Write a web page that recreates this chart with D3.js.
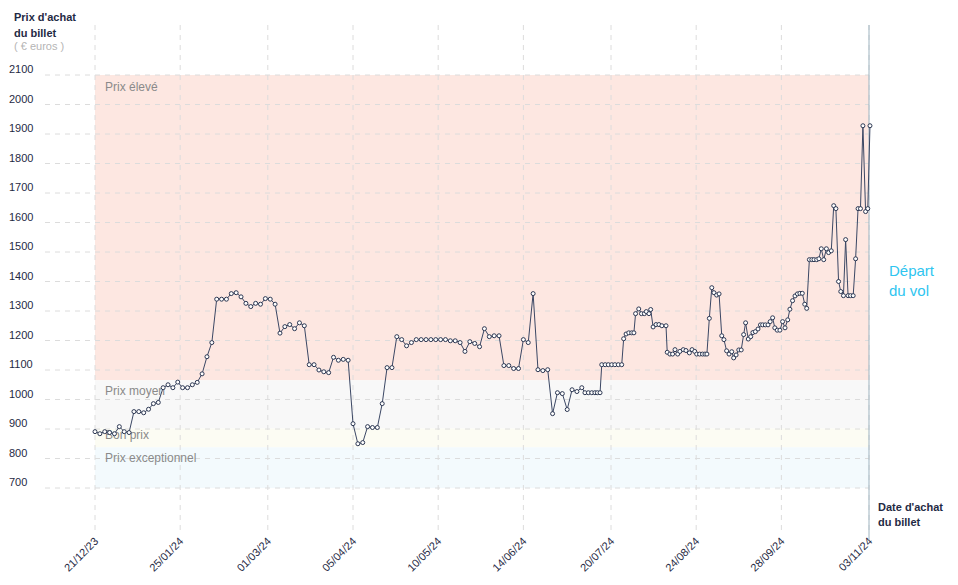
<!DOCTYPE html>
<html>
<head>
<meta charset="utf-8">
<script src="https://cdn.jsdelivr.net/npm/d3@7"></script>
<style>
  body { margin: 0; background: #fff; }
  text { font-family: "Liberation Sans", Arial, sans-serif; }
</style>
</head>
<body>
<div id="chart"></div>
<script>
// Prix d'achat du billet selon la date d'achat

// Data
var startDate = new Date(2023, 11, 21);
// days since 21/12/23 for each observation
var days = [0,2,4,6,8,10,12,14,16,18,20,22,24,26,28,30,32,34,36,38,40,42,44,46,48,50,52,54,56,58,60,62,64,66,68,70,72,74,76,78,
  80,82,84,86,88,90,92,94,96,98,100,102,104,106,108,110,112,114,116,118,120,122,124,126,128,130,132,134,136,138,
  140,142,144,146,148,150,152,154,156,158,160,162,164,166,168,170,172,174,176,178,180,182,184,186,188,190,192,194,196,198,200,
  201.3,202.7,204.1,205.4,206.4,207.5,208.2,209.6,210.9,212.3,213.6,215,216.4,217.2,218.2,219.3,220.5,221.4,222.1,223.4,224.5,225.7,226.5,227.6,228.3,229.3,230.5,231.7,232.9,234.6,
  235.1,236.2,237.3,238.3,239.4,240.3,241.7,242.8,244.2,245.3,246.4,247.2,248.4,249.6,250.6,251.4,252.4,
  253.4,254.3,255.4,256.4,257.5,258.4,259.5,260.5,261.6,262.4,263.4,264.5,265.5,266.5,267.3,268.4,269.4,270.3,271.3,272.4,273.4,274.3,275.4,276.5,277.4,278.4,279.3,280.3,281.4,282.5,283.5,284.6,285.5,286.6,287.6,288.6,
  289.6,290.6,291.6,292.4,293.5,294.5,295.4,296.5,297.4,298.4,299.4,300.5,301.4,302.5,303.5,304.4,305.5,306.4,307.5,308.4,309.4,310.4,311.5,312.5,313.5,314.5,315.5,316.6,317.5,318.4];
var prices = [891,884,891,888,884,908,891,888,959,959,955,967,986,990,1040,1050,1040,1059,1040,1040,1050,1058,1087,1145,1193,1340,1340,1340,1359,1362,1348,1326,1315,1326,1323,1342,1340,1323,1225,1247,
  1254,1240,1260,1250,1118,1118,1100,1094,1091,1143,1133,1136,1133,918,850,854,908,905,905,986,1108,1108,1213,1203,1182,1193,1203,1203,1203,1203,
  1203,1203,1203,1199,1199,1193,1163,1196,1190,1179,1240,1213,1216,1216,1115,1115,1105,1105,1203,1193,1359,1101,1098,1101,952,1023,1020,966,1033,1027,1040,
  1023,1023,1023,1023,1023,1023,1118,1118,1118,1118,1118,1118,1118,1206,1222,1226,1226,1226,1291,1307,1291,1291,1298,1291,1305,1246,1254,1254,1250,1250,
  1160,1154,1154,1169,1154,1163,1169,1166,1158,1169,1163,1154,1154,1154,1154,1154,1275,
  1379,1362,1354,1358,1216,1203,1165,1154,1162,1141,1151,1168,1168,1220,1260,1205,1213,1227,1230,1239,1253,1253,1253,1253,1264,1277,1243,1235,1235,1264,1243,1270,1306,1335,1351,1358,
  1360,1360,1323,1309,1474,1474,1474,1474,1477,1511,1474,1511,1498,1504,1657,1647,1400,1366,1352,1542,1352,1352,1352,1477,1647,1647,1928,1637,1647,1928];
var tickLabels = ["21/12/23","25/01/24","01/03/24","05/04/24","10/05/24","14/06/24","20/07/24","24/08/24","28/09/24","03/11/24"];
var yTicks = [700,800,900,1000,1100,1200,1300,1400,1500,1600,1700,1800,1900,2000,2100];
var bandNames = ["Prix élevé","Prix moyen","Bon prix","Prix exceptionnel"];
var bandTops = [2100,1065,902,838];
var bandBottoms = [1065,902,838,700];
var bandColors = ["#fde7e1","#f8f8f8","#fcfcf3","#f3fafd"];

var svgWidth = 958, svgHeight = 585;
var svg = d3.select("#chart").append("svg")
    .attr("width", svgWidth)
    .attr("height", svgHeight);

function parseTick(s) {
  var p = s.split("/");
  return new Date(2000 + +p[2], +p[1] - 1, +p[0]);
}
function dayToDate(d) {
  return new Date(startDate.getTime() + d * 86400000);
}

var xScale = d3.scaleTime()
    .domain([parseTick(tickLabels[0]), parseTick(tickLabels[tickLabels.length - 1])])
    .range([95, 869]);
var yScale = d3.scaleLinear()
    .domain([700, 2100])
    .range([488, 75]);

var ink = "#1f2a44";

// bands
svg.selectAll(".band").data(bandNames).enter().append("rect")
    .attr("x", xScale.range()[0])
    .attr("width", xScale.range()[1] - xScale.range()[0])
    .attr("y", (d, i) => yScale(bandTops[i]))
    .attr("height", (d, i) => yScale(bandBottoms[i]) - yScale(bandTops[i]))
    .attr("fill", (d, i) => bandColors[i]);

// horizontal grid + y labels
svg.selectAll(".hgrid").data(yTicks).enter().append("line")
    .attr("x1", 45).attr("x2", 869)
    .attr("y1", d => yScale(d)).attr("y2", d => yScale(d))
    .attr("stroke", "#dcdcdc")
    .attr("stroke-dasharray", "5,5");
svg.selectAll(".ylab").data(yTicks).enter().append("text")
    .attr("x", 9)
    .attr("y", d => yScale(d) - 2)
    .attr("font-size", "11px")
    .attr("fill", ink)
    .text(d => d);

// vertical grid + x labels
var tickDates = tickLabels.map(parseTick);
svg.selectAll(".vgrid").data(tickDates).enter().append("line")
    .attr("x1", d => xScale(d)).attr("x2", d => xScale(d))
    .attr("y1", 25).attr("y2", 535)
    .attr("stroke", "#dcdcdc")
    .attr("stroke-dasharray", "5,5");
svg.selectAll(".xlab").data(tickLabels).enter().append("text")
    .attr("transform", (d, i) => "translate(" + (xScale(tickDates[i]) + 4) + ",542) rotate(-45)")
    .attr("text-anchor", "end")
    .attr("font-size", "11px")
    .attr("fill", ink)
    .text(d => d);

// band labels
var bandLabelY = [91, 395, 439, 462];
svg.selectAll(".blab").data(bandNames).enter().append("text")
    .attr("x", 105)
    .attr("y", (d, i) => bandLabelY[i])
    .attr("font-size", "12px")
    .attr("fill", "#8a8a8a")
    .text(d => d);

// departure line
svg.append("line")
    .attr("x1", 869).attr("x2", 869)
    .attr("y1", 25).attr("y2", 540)
    .attr("stroke", "#9fb4c0")
    .attr("stroke-width", 1);

// price line
var pts = days.map((d, i) => ({date: dayToDate(d), price: prices[i]}));
var line = d3.line().x(d => xScale(d.date)).y(d => yScale(d.price));
svg.append("path")
    .datum(pts)
    .attr("d", line)
    .attr("fill", "none")
    .attr("stroke", "#3b4764")
    .attr("stroke-width", 1);
svg.selectAll(".dot").data(pts).enter().append("circle")
    .attr("cx", d => xScale(d.date))
    .attr("cy", d => yScale(d.price))
    .attr("r", 2)
    .attr("fill", "#fff")
    .attr("stroke", "#2c3752")
    .attr("stroke-width", 1);

// titles
var yTitle = svg.append("g").attr("font-size", "11px").attr("font-weight", "bold").attr("fill", ink);
yTitle.append("text").attr("x", 14).attr("y", 21).text("Prix d'achat");
yTitle.append("text").attr("x", 14).attr("y", 37).text("du billet");
svg.append("text").attr("x", 14).attr("y", 50).attr("font-size", "11px").attr("fill", "#b5b5b5").text("( € euros )");

var xTitle = svg.append("g").attr("font-size", "11px").attr("font-weight", "bold").attr("fill", ink);
xTitle.append("text").attr("x", 878).attr("y", 511).text("Date d'achat");
xTitle.append("text").attr("x", 878).attr("y", 526).text("du billet");

var dep = svg.append("g").attr("font-size", "15px").attr("fill", "#2ec5f0");
dep.append("text").attr("x", 889).attr("y", 276).text("Départ");
dep.append("text").attr("x", 889).attr("y", 296).text("du vol");
</script>
</body>
</html>
